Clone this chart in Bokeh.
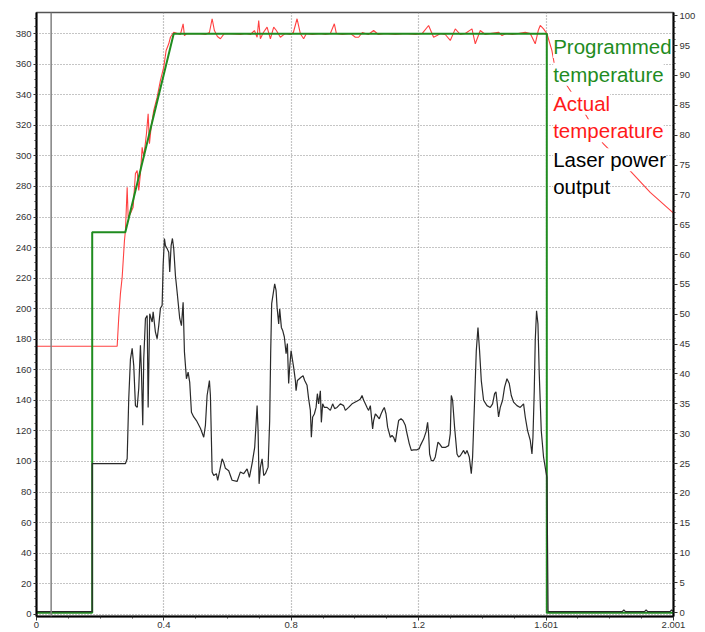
from bokeh.plotting import figure
from bokeh.models import Range1d, LinearAxis, FixedTicker, Label, Span
from bokeh.embed import file_html
from bokeh.resources import INLINE

# ---------------- data ----------------
x_ticks = [0, 0.4, 0.8, 1.2, 1.601, 2.001]
x_tick_labels = ["0", "0.4", "0.8", "1.2", "1.601", "2.001"]
x_minor = [0.1, 0.2, 0.3, 0.5, 0.6, 0.7, 0.9, 1.0, 1.1, 1.3, 1.4, 1.5, 1.701, 1.801, 1.901]
temp_ticks = list(range(0, 381, 20))
temp_minor = list(range(0, 391, 5))
pct_ticks = list(range(0, 101, 5))
pct_minor = list(range(0, 101, 1))

cursor_t = 0.046

prog_t = [0, 0.175, 0.175, 0.279, 0.431, 1.603, 1.603, 2.001]
prog_temp = [1.0, 1.0, 250, 250, 380, 380, 1.0, 1.0]

actual_t = [0, 0.2534, 0.2584, 0.2637, 0.2691, 0.2763, 0.2794, 0.2848, 0.2879, 0.2951, 0.3036,
            0.3108, 0.3162, 0.3212, 0.3265, 0.3319, 0.3369, 0.3454, 0.3507, 0.3548, 0.3601,
            0.3683, 0.3790, 0.3893, 0.3997, 0.4072, 0.4154, 0.4207, 0.4311,
            0.4427, 0.4521, 0.4606, 0.4647, 0.4710, 0.4835, 0.4992, 0.5149, 0.5306, 0.5432,
            0.5517, 0.5589, 0.5683, 0.5777, 0.5903, 0.6091, 0.6405, 0.6562, 0.6719, 0.6845,
            0.6930, 0.6980, 0.7033, 0.7127, 0.7243, 0.7347, 0.7451, 0.7535, 0.7661, 0.7818,
            0.7975, 0.8069, 0.8185, 0.8289, 0.8392, 0.8477, 0.8666, 0.8917, 0.9074, 0.9231,
            0.9356, 0.9419, 0.9608, 0.9859, 1.0016, 1.0119, 1.0235, 1.0424, 1.0590, 1.0738,
            1.0958, 1.1272, 1.1586, 1.1900, 1.2119, 1.2317, 1.2474, 1.2581, 1.2684, 1.2841,
            1.2998, 1.3155, 1.3312, 1.3469, 1.3680, 1.3783, 1.3940, 1.4097, 1.4254, 1.4515,
            1.4622, 1.4757, 1.4945, 1.5133, 1.5353, 1.5510, 1.5667, 1.5761, 1.5824, 1.5928,
            1.6035, 1.6191, 1.6264, 1.6515, 1.6766, 1.7237, 1.7802, 1.8650, 1.9278, 2.001]
actual_temp = [175.4, 175.4, 194.4, 210.0, 220.6, 244.6, 251.2, 279.5, 259.9, 262.3, 266.4,
               288.5, 290.5, 277.4, 288.5, 305.7, 299.2, 314.5, 327.6, 308.0, 318.8,
               329.8, 338.5, 349.4, 358.1, 369.0, 373.4, 377.7, 381.0,
               380.2, 379.5, 386.5, 378.8, 380.0, 380.2, 380.0, 380.0, 379.5, 380.8,
               389.8, 382.1, 378.2, 376.7, 380.2, 380.0, 379.5, 380.2, 379.5, 382.1,
               377.7, 388.7, 376.7, 380.8, 384.3, 376.7, 384.3, 382.1, 377.7, 380.2,
               379.5, 380.8, 389.8, 380.0, 376.7, 380.2, 379.5, 380.2, 379.5, 380.2,
               386.5, 380.2, 379.5, 380.2, 377.7, 377.7, 380.8, 379.5, 382.1, 379.5,
               380.2, 379.5, 380.2, 379.5, 380.2, 385.4, 377.7, 378.8, 380.2, 379.5,
               375.6, 383.2, 379.5, 380.2, 383.2, 373.4, 382.1, 379.5, 380.2, 381.0,
               378.8, 380.2, 379.5, 380.2, 381.0, 380.2, 373.4, 382.1, 385.4, 383.2,
               380.0, 369.0, 360.5, 350.7, 342.8, 327.5, 308.0, 290.3, 276.1, 262.6]

laser_t = [0, 0.175, 0.175, 0.2794,
           0.2848, 0.2898, 0.2951, 0.3005, 0.3055, 0.3108, 0.3162, 0.3212, 0.3265, 0.3297,
           0.3338, 0.3369, 0.3422, 0.3476, 0.3507, 0.3557, 0.3633, 0.3664, 0.3736, 0.3790,
           0.3840, 0.3893, 0.3947, 0.3978, 0.4019, 0.4050, 0.4104, 0.4154, 0.4185, 0.4229,
           0.4270, 0.4311, 0.4364, 0.4418, 0.4499, 0.4553, 0.4606, 0.4647, 0.4710, 0.4763,
           0.4813, 0.4867, 0.4939, 0.5024, 0.5149, 0.5253, 0.5306, 0.5359, 0.5432, 0.5463,
           0.5517, 0.5567, 0.5651, 0.5692, 0.5755, 0.5831, 0.5881, 0.5934, 0.6038, 0.6144,
           0.6301, 0.6405, 0.6509, 0.6615, 0.6688, 0.6772, 0.6854, 0.6930, 0.6961, 0.6992,
           0.7033, 0.7087, 0.7137, 0.7190, 0.7275, 0.7325, 0.7356, 0.7388, 0.7451, 0.7482,
           0.7526, 0.7557, 0.7608, 0.7639, 0.7692, 0.7733, 0.7786, 0.7840, 0.7881, 0.7921,
           0.7953, 0.7997, 0.8028, 0.8078, 0.8132, 0.8154, 0.8195, 0.8257, 0.8320, 0.8374,
           0.8424, 0.8499, 0.8550, 0.8603, 0.8634, 0.8675, 0.8728, 0.8782, 0.8823, 0.8863,
           0.8917, 0.8948, 0.8989, 0.9042, 0.9127, 0.9231, 0.9303, 0.9366, 0.9441, 0.9545,
           0.9648, 0.9702, 0.9805, 0.9912, 1.0016, 1.0119, 1.0173, 1.0226, 1.0276, 1.0330,
           1.0383, 1.0433, 1.0487, 1.0559, 1.0590, 1.0644, 1.0697, 1.0769, 1.0823, 1.0873,
           1.0926, 1.0980, 1.1030, 1.1115, 1.1168, 1.1218, 1.1272, 1.1325, 1.1375, 1.1451,
           1.1513, 1.1586, 1.1639, 1.1711, 1.1774, 1.1846, 1.1953, 1.2025, 1.2057, 1.2160,
           1.2236, 1.2286, 1.2317, 1.2349, 1.2402, 1.2474, 1.2527, 1.2581, 1.2612, 1.2662,
           1.2738, 1.2841, 1.2945, 1.2998, 1.3030, 1.3071, 1.3133, 1.3209, 1.3259, 1.3312,
           1.3416, 1.3469, 1.3523, 1.3595, 1.3658, 1.3699, 1.3762, 1.3815, 1.3868, 1.3918,
           1.3972, 1.4044, 1.4151, 1.4254, 1.4327, 1.4390, 1.4433, 1.4474, 1.4515, 1.4568,
           1.4641, 1.4704, 1.4779, 1.4851, 1.4914, 1.4986, 1.5093, 1.5196, 1.5300, 1.5353,
           1.5426, 1.5510, 1.5564, 1.5595, 1.5636, 1.5667, 1.5708, 1.5752, 1.5793, 1.5856,
           1.5928, 1.6003, 1.6035,
           1.607, 1.84, 1.845, 1.85, 1.91, 1.915, 1.92, 1.99, 1.995, 2.001]
laser_pct = [0.2, 0.2, 25.0, 25.0,
             25.8, 35.9, 42.5, 44.3, 41.4, 34.7, 34.4, 37.6, 44.8, 40.3,
             31.4, 42.6, 49.3, 49.8, 34.4, 50.1, 48.7, 50.4, 47.0, 45.9,
             48.1, 51.0, 51.5, 58.2, 62.7, 61.5, 61.0, 60.4, 57.1, 61.5,
             62.7, 61.0, 56.5, 53.7, 49.3, 48.1, 52.0, 43.7, 39.2, 40.3,
             38.6, 33.6, 32.8, 32.2, 30.9, 29.4, 31.4, 36.4, 38.9, 36.4,
             23.6, 23.0, 23.3, 22.2, 23.8, 25.8, 25.2, 24.2, 23.8, 22.2,
             22.0, 23.6, 23.3, 24.1, 22.7, 25.0, 27.7, 34.7, 30.5, 21.6,
             24.4, 25.8, 23.0, 23.3, 24.4, 32.2, 43.4, 51.8, 54.0, 55.1,
             54.0, 51.2, 48.4, 50.9, 47.8, 47.3, 46.2, 43.4, 45.1, 38.4,
             41.1, 43.9, 42.8, 41.1, 38.9, 37.2, 38.9, 39.2, 39.5, 39.7,
             38.9, 38.1, 35.8, 33.9, 29.4, 32.8, 33.3, 34.4, 36.7, 35.0,
             37.2, 31.9, 35.0, 34.4, 34.4, 33.9, 35.0, 34.2, 34.4, 35.0,
             34.7, 33.9, 34.4, 35.0, 35.3, 35.6, 35.8, 36.4, 35.6, 35.0,
             34.4, 33.9, 34.7, 30.8, 32.2, 33.3, 33.0, 32.5, 33.3, 33.9,
             34.4, 33.3, 31.1, 29.4, 29.7, 29.4, 28.6, 30.5, 32.2, 32.5,
             32.2, 31.4, 30.0, 28.3, 27.2, 27.3, 27.3, 27.5, 28.0, 29.1,
             30.3, 31.9, 30.0, 26.6, 25.5, 25.5, 26.1, 27.7, 28.6, 28.3,
             27.7, 27.7, 28.0, 30.0, 36.4, 35.6, 31.1, 26.6, 26.1, 26.3,
             27.2, 26.6, 27.2, 26.1, 23.3, 26.1, 35.6, 43.9, 47.8, 43.9,
             38.9, 35.6, 34.7, 34.4, 35.0, 36.7, 37.0, 35.0, 32.8, 34.4,
             35.6, 37.8, 39.2, 38.4, 36.4, 35.3, 34.7, 34.4, 35.0, 32.8,
             30.5, 28.9, 26.6, 29.4, 37.2, 45.6, 50.6, 48.4, 40.0, 30.5,
             26.1, 23.6, 22.7,
             0.2, 0.2, 0.5, 0.2, 0.2, 0.5, 0.2, 0.2, 0.5, 0.2]

legend_lines = ["Programmed", "temperature", "Actual", "temperature", "Laser power", "output"]
legend_colors = ["#1f8c1f", "#1f8c1f", "#ff1a1a", "#ff1a1a", "#000000", "#000000"]
legend_y = [371.7, 353.5, 334.5, 316.5, 297.5, 279.7]
legend_x = 1.623

# ---------------- figure ----------------
FONT = "Liberation Sans"
p = figure(width=705, height=632, output_backend="svg", toolbar_location=None,
           x_range=Range1d(0, 2.001), y_range=Range1d(-1.5, 393.9),
           min_border_left=36, min_border_right=32, min_border_top=12, min_border_bottom=16)
p.background_fill_color = "white"
p.border_fill_color = "white"
p.outline_line_color = "#555555"
p.outline_line_width = 1.5

p.extra_y_ranges = {"pct": Range1d(-0.62, 100.55)}

# grids
p.xgrid.ticker = FixedTicker(ticks=x_ticks)
p.ygrid.ticker = FixedTicker(ticks=temp_ticks)
for g in (p.xgrid[0], p.ygrid[0]):
    g.grid_line_color = "#8a8a8a"
    g.grid_line_dash = "1 2"
    g.grid_line_width = 1.2

# x axis
xa = p.xaxis[0]
xa.ticker = FixedTicker(ticks=x_ticks, minor_ticks=x_minor)
xa.major_label_overrides = {t: s for t, s in zip(x_ticks, x_tick_labels)}
# y axis (left)
ya = p.yaxis[0]
ya.ticker = FixedTicker(ticks=temp_ticks, minor_ticks=temp_minor)
# y axis (right)
ra = LinearAxis(y_range_name="pct", ticker=FixedTicker(ticks=pct_ticks, minor_ticks=pct_minor))
p.add_layout(ra, "right")

for ax in (xa, ya, ra):
    ax.axis_line_color = "black"
    ax.axis_line_width = 2
    ax.major_tick_line_color = "#333333"
    ax.minor_tick_line_color = "#333333"
    ax.major_tick_in = 0
    ax.minor_tick_in = 0
    ax.major_tick_out = 4
    ax.minor_tick_out = 2
    ax.major_label_text_font = FONT
    ax.major_label_text_font_size = "9.5px"
    ax.major_label_text_color = "#333333"
    ax.major_label_standoff = 2
xa.major_label_standoff = 1
ya.major_tick_out = 3

# cursor line
p.add_layout(Span(location=cursor_t, dimension="height", line_color="#808080", line_width=1.5))

# series
p.line(actual_t, actual_temp, line_color="#ff2020", line_alpha=0.85, line_width=1.1)
p.line(prog_t, prog_temp, line_color="#1f8c1f", line_width=2)
p.line(laser_t, laser_pct, y_range_name="pct", line_color="#2a2a2a", line_width=1.2)

# unit labels
p.add_layout(Label(x=0, y=380, x_offset=-11, y_offset=13, text="°C", text_align="center",
                   text_baseline="middle", text_font=FONT, text_font_size="13px",
                   text_color="#333333"))
p.add_layout(Label(x=2.001, y=380, x_offset=15, y_offset=2, text="%", text_align="center",
                   text_baseline="middle", text_font=FONT, text_font_size="11px",
                   text_color="#333333"))

# legend-like text
for txt, col, yy in zip(legend_lines, legend_colors, legend_y):
    p.add_layout(Label(x=legend_x, y=yy, text=txt, text_color=col, text_font=FONT,
                       text_font_size="20.5px", text_baseline="alphabetic",
                       background_fill_color="white", background_fill_alpha=1.0))

open("out.html", "w").write(file_html(p, INLINE))
